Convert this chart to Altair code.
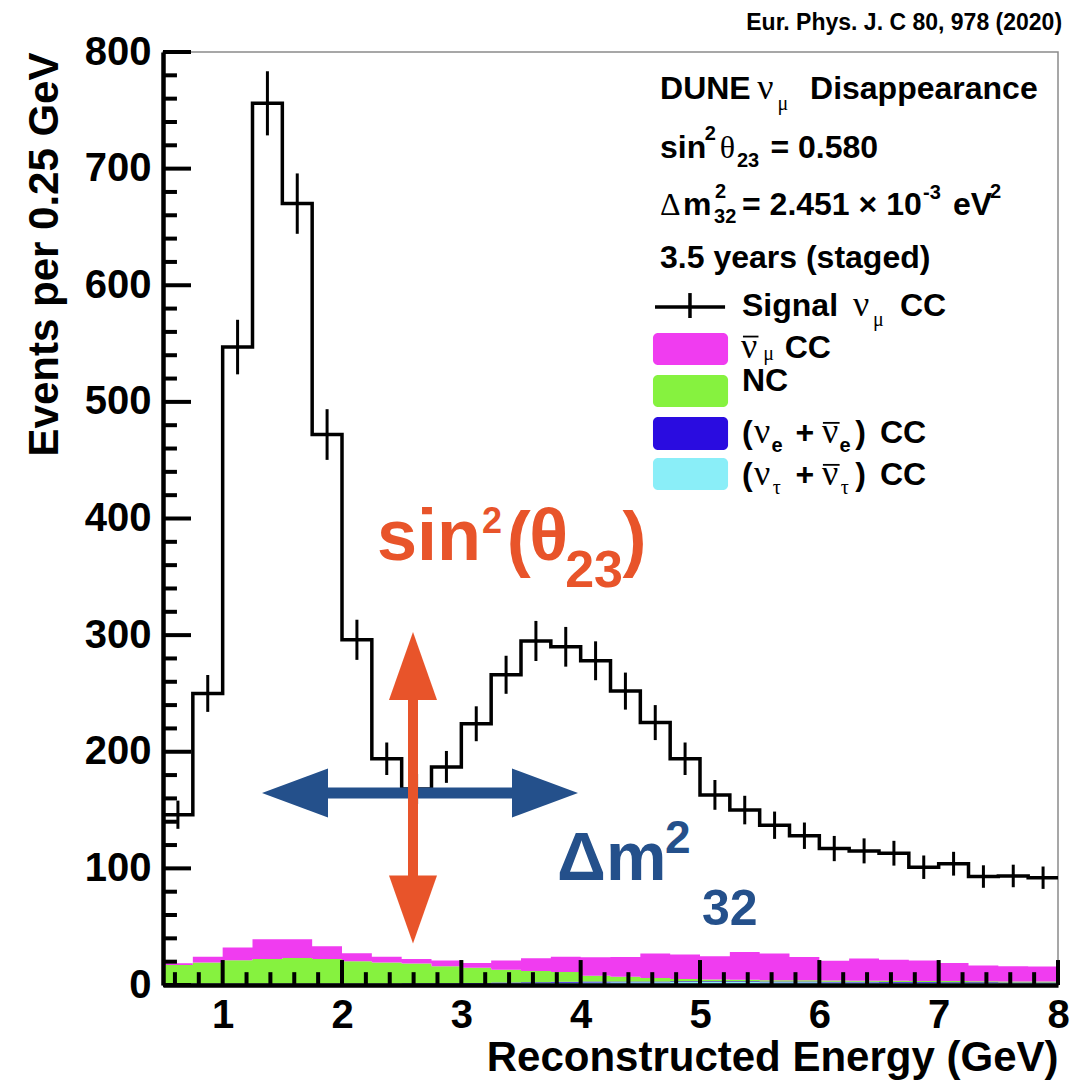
import altair as alt
import pandas as pd

# ---------------------------------------------------------------------------
# Histogram content: 30 bins of 0.25 GeV between 0.5 and 8 GeV
# ---------------------------------------------------------------------------
EDGES = [0.5 + 0.25 * i for i in range(31)]
BIN_LO = EDGES[:-1]

# Signal nu_mu CC (events per bin)
SIGNAL = [146, 250, 547, 756, 670, 472, 296, 194, 168, 187,
          224, 266, 295, 290, 278, 252, 225, 194, 163, 150,
          137, 128, 117, 115, 113, 101, 104, 93, 93.5, 92]

# Backgrounds (stacked, listed bottom to top)
NUTAU = [0.3, 0.3, 0.3, 0.3, 0.3, 0.3, 0.4, 0.5, 0.6, 0.8,
         1.0, 1.3, 1.6, 1.9, 2.1, 2.3, 2.4, 2.5, 2.5, 2.5,
         2.4, 2.3, 2.2, 2.1, 2.0, 1.9, 1.8, 1.7, 1.6, 1.5]
NUE = [0.9, 0.9, 0.9, 0.9, 0.9, 0.9, 0.9, 0.8, 0.8, 0.8,
       0.8, 0.8, 0.8, 0.8, 0.8, 0.7, 0.7, 0.7, 0.7, 0.7,
       0.7, 0.7, 0.6, 0.6, 0.6, 0.6, 0.6, 0.6, 0.6, 0.6]
NC = [16, 18, 20, 21, 22, 21, 19, 18, 17, 14.5,
      13, 11, 9.5, 8.5, 5, 4, 3, 2, 1.5, 1.2,
      1, 1, 1, 1, 1, 1, 1, 1, 0.8, 0.8]
NUMUBAR = [1.5, 5, 11, 17, 16, 11, 7, 5, 4, 5,
           4, 8, 11, 13, 16, 17, 21, 21, 20, 24,
           23, 20, 17, 19, 18, 17.5, 15.5, 13.5, 13, 13]

COMPONENTS = [("nutau", NUTAU), ("nue", NUE), ("nc", NC), ("numubar", NUMUBAR)]
COMP_COLORS = {"numubar": "#f03cf0", "nc": "#86f23f", "nue": "#2a0ce0", "nutau": "#8aeef8"}

# Axis ticks / labels
Y_MAJOR = list(range(0, 801, 100))
Y_MINOR = [v for v in range(0, 801, 20) if v % 100]
X_MAJOR = [1, 2, 3, 4, 5, 6, 7, 8]
X_MINOR = [v / 10 for v in range(6, 80, 2) if v % 10]

ORANGE = "#e8542a"
NAVY = "#24508b"
SANS = "Liberation Sans"
SERIF = "Liberation Serif"

# ---------------------------------------------------------------------------
# Shared scales and axes (identical in every layer so they merge cleanly)
# ---------------------------------------------------------------------------
xs = alt.Scale(domain=[0.5, 8.0], nice=False, zero=False)
ys = alt.Scale(domain=[0, 800], nice=False, zero=False)

axis_common = dict(
    ticks=False, tickSize=0, grid=False, domain=True, domainColor="black", domainWidth=4.5,
    labelFont=SANS, labelFontWeight="bold", labelFontSize=40, labelColor="black",
    labelFlush=False, labelOverlap=False, format="d",
    titleFont=SANS, titleFontWeight="bold", titleFontSize=42, titleColor="black",
    titleAnchor="end", zindex=1,
)
AX_X = alt.Axis(values=X_MAJOR, title="Reconstructed Energy (GeV)",
                labelPadding=10, titlePadding=2, **axis_common)
AX_Y = alt.Axis(values=Y_MAJOR, title="Events per 0.25 GeV",
                labelPadding=12, titlePadding=18, **axis_common)


def X(field):
    return alt.X(field, type="quantitative", scale=xs, axis=AX_X, title="Reconstructed Energy (GeV)")


def Y(field):
    return alt.Y(field, type="quantitative", scale=ys, axis=AX_Y, title="Events per 0.25 GeV")


# ---------------------------------------------------------------------------
# Tables
# ---------------------------------------------------------------------------
sig_df = pd.DataFrame({"E": BIN_LO + [EDGES[-1]], "n": SIGNAL + [SIGNAL[-1]]})
err_df = pd.DataFrame({"E": [lo + 0.125 for lo in BIN_LO], "n": SIGNAL})

bkg_rows = []
for rank, (name, vals) in enumerate(COMPONENTS):
    for e, v in zip(BIN_LO + [EDGES[-1]], vals + [vals[-1]]):
        bkg_rows.append({"E": e, "v": v, "comp": name, "rank": rank})
bkg_df = pd.DataFrame(bkg_rows)

comp_scale = alt.Scale(domain=list(COMP_COLORS), range=list(COMP_COLORS.values()))

# ---------------------------------------------------------------------------
# Stacked backgrounds
# ---------------------------------------------------------------------------
bkg = (
    alt.Chart(bkg_df)
    .transform_stack(stack="v", groupby=["E"], as_=["y0", "y1"],
                     sort=[alt.SortField("rank", order="ascending")])
    .mark_area(interpolate="step-after", opacity=1)
    .encode(
        x=X("E"),
        y=Y("y1"),
        y2="y0:Q",
        color=alt.Color("comp:N", legend=None, scale=comp_scale),
        detail="comp:N",
    )
)

# ---------------------------------------------------------------------------
# Signal histogram (outline) with statistical error bars
# ---------------------------------------------------------------------------
signal = (
    alt.Chart(sig_df)
    .mark_line(interpolate="step-after", color="black", strokeWidth=3.5)
    .encode(x=X("E"), y=Y("n"))
)

errors = (
    alt.Chart(err_df)
    .transform_calculate(lo="datum.n - sqrt(datum.n)", hi="datum.n + sqrt(datum.n)")
    .mark_rule(color="black", strokeWidth=3)
    .encode(x=X("E"), y=Y("lo"), y2="hi:Q")
)

# ---------------------------------------------------------------------------
# Inward-pointing ticks (major and minor) along the left and bottom axes
# ---------------------------------------------------------------------------
tick_rows = (
    [{"x": 0.5, "x2": 0.7346, "y": v, "y2": v} for v in Y_MAJOR]
    + [{"x": 0.5, "x2": 0.617, "y": v, "y2": v} for v in Y_MINOR]
    + [{"x": v, "x2": v, "y": 0, "y2": 21.4} for v in X_MAJOR]
    + [{"x": v, "x2": v, "y": 0, "y2": 11} for v in X_MINOR]
)
ticks = (
    alt.Chart(pd.DataFrame(tick_rows))
    .mark_rule(color="black", strokeWidth=4)
    .encode(x=X("x"), x2="x2:Q", y=Y("y"), y2="y2:Q")
)

# ---------------------------------------------------------------------------
# Oscillation-parameter arrows
# ---------------------------------------------------------------------------
h_shaft = (
    alt.Chart(pd.DataFrame([{"x": 1.65, "x2": 3.66, "y": 164.6}]))
    .mark_rule(color=NAVY, strokeWidth=11)
    .encode(x=X("x"), x2="x2:Q", y=Y("y"))
)
v_shaft = (
    alt.Chart(pd.DataFrame([{"x": 2.595, "y": 93.5, "y2": 244.4}]))
    .mark_rule(color=ORANGE, strokeWidth=10)
    .encode(x=X("x"), y=Y("y"), y2="y2:Q")
)


def head(x, y, path, size, color):
    return (
        alt.Chart(pd.DataFrame([{"x": x, "y": y}]))
        .mark_point(shape=path, filled=True, opacity=1, strokeWidth=0, color=color, size=size)
        .encode(x=X("x"), y=Y("y"))
    )


heads = [
    head(1.606, 164.6, "M-1,0L1,-0.742L1,0.742Z", 4356, NAVY),
    head(3.701, 164.6, "M1,0L-1,-0.742L-1,0.742Z", 4356, NAVY),
    head(2.595, 273.5, "M0,-1L0.706,1L-0.706,1Z", 4624, ORANGE),
    head(2.595, 64.7, "M0,1L0.706,-1L-0.706,-1Z", 4624, ORANGE),
]

# ---------------------------------------------------------------------------
# Legend block (swatches, signal marker, overbars)
# ---------------------------------------------------------------------------
swatch_df = pd.DataFrame([
    {"x": 4.606, "x2": 5.235, "y": 531.6, "y2": 559.1, "comp": "numubar"},
    {"x": 4.606, "x2": 5.235, "y": 495.6, "y2": 523.0, "comp": "nc"},
    {"x": 4.606, "x2": 5.235, "y": 458.7, "y2": 487.0, "comp": "nue"},
    {"x": 4.606, "x2": 5.235, "y": 424.4, "y2": 451.9, "comp": "nutau"},
])
swatches = (
    alt.Chart(swatch_df)
    .mark_rect(cornerRadius=5)
    .encode(x=X("x"), x2="x2:Q", y=Y("y"), y2="y2:Q",
            color=alt.Color("comp:N", legend=None, scale=comp_scale))
)

legend_lines = (
    alt.Chart(pd.DataFrame([
        {"x": 4.623, "x2": 5.210, "y": 581.3, "y2": 581.3, "w": 3.5},
        {"x": 4.916, "x2": 4.916, "y": 571.9, "y2": 593.3, "w": 3.5},
        {"x": 5.36, "x2": 5.49, "y": 556.0, "y2": 556.0, "w": 1.8},
        {"x": 6.03, "x2": 6.17, "y": 482.0, "y2": 482.0, "w": 1.8},
        {"x": 6.03, "x2": 6.17, "y": 446.0, "y2": 446.0, "w": 1.8},
    ]))
    .mark_rule(color="black")
    .encode(x=X("x"), x2="x2:Q", y=Y("y"), y2="y2:Q", strokeWidth=alt.StrokeWidth("w:Q", scale=None))
)


def text_layer(rows, font, weight, color, align="left"):
    df = pd.DataFrame(rows, columns=["t", "x", "y", "fs"])
    return (
        alt.Chart(df)
        .mark_text(font=font, fontWeight=weight, color=color, align=align, baseline="alphabetic")
        .encode(x=X("x"), y=Y("y"), text="t:N", size=alt.Size("fs:Q", scale=None))
    )


legend_sans = text_layer([
    ("DUNE", 4.665, 760.0, 32), ("Disappearance", 5.922, 760.0, 32),
    ("sin", 4.665, 709.1, 32), ("2", 5.040, 724.5, 20), ("23", 5.310, 701.4, 20), ("= 0.580", 5.590, 709.1, 32),
    ("m", 4.858, 660.2, 32), ("2", 5.126, 674.8, 20), ("32", 5.118, 653.4, 20),
    ("= 2.451 × 10", 5.352, 660.2, 32), ("-3", 6.869, 673.6, 20), ("eV", 7.120, 660.2, 32), ("2", 7.430, 674.8, 20),
    ("3.5 years (staged)", 4.665, 614.8, 32),
    ("Signal", 5.352, 573.6, 32), ("CC", 6.676, 573.6, 32),
    ("CC", 5.710, 537.6, 32),
    ("NC", 5.352, 509.4, 32),
    ("(", 5.352, 464.7, 32), ("e", 5.600, 457.0, 20), ("+", 5.800, 464.7, 32), ("e", 6.170, 457.0, 20),
    (")", 6.300, 464.7, 32), ("CC", 6.508, 464.7, 32),
    ("(", 5.352, 428.8, 32), ("+", 5.800, 428.8, 32), (")", 6.300, 428.8, 32), ("CC", 6.508, 428.8, 32),
], SANS, "bold", "black")

legend_serif = text_layer([
    ("ν", 5.480, 760.0, 36), ("μ", 5.650, 750.3, 20),
    ("θ", 5.165, 709.1, 32),
    ("Δ", 4.665, 660.2, 32),
    ("ν", 6.282, 573.6, 36), ("μ", 6.450, 565.0, 20),
    ("ν", 5.344, 537.6, 36), ("μ", 5.530, 536.0, 20),
    ("ν", 5.453, 464.7, 36), ("ν", 6.023, 464.7, 36),
    ("ν", 5.453, 428.8, 36), ("τ", 5.610, 421.0, 20), ("ν", 6.023, 428.8, 36), ("τ", 6.180, 421.0, 20),
], SERIF, "normal", "black")

sin_label = text_layer([
    ("sin", 2.293, 364.4, 72), ("2", 3.173, 387.6, 36), ("(", 3.380, 361.8, 72),
    ("θ", 3.570, 364.4, 72), ("23", 3.870, 341.3, 52), (")", 4.350, 361.8, 72),
], SANS, "bold", ORANGE)

dm_label = text_layer([
    ("Δm", 3.802, 90.0, 68), ("2", 4.707, 113.2, 46), ("32", 5.017, 51.4, 50),
], SANS, "bold", NAVY)

journal = text_layer([
    ("Eur. Phys. J. C 80, 978 (2020)", 8.034, 818.9, 23),
], SANS, "bold", "black", align="right")

chart = (
    alt.layer(
        bkg, signal, errors, ticks, h_shaft, v_shaft, *heads,
        swatches, legend_lines, legend_sans, legend_serif, sin_label, dm_label, journal,
    )
    .properties(
        width=895, height=933,
        autosize=alt.AutoSizeParams(type="none"),
        padding={"left": 163, "top": 52, "right": 13, "bottom": 96},
        background="white",
    )
    .configure_view(stroke="#8a8a8a", strokeWidth=1.5)
)

chart.save("out.html", embed_options={"renderer": "svg", "actions": False})
